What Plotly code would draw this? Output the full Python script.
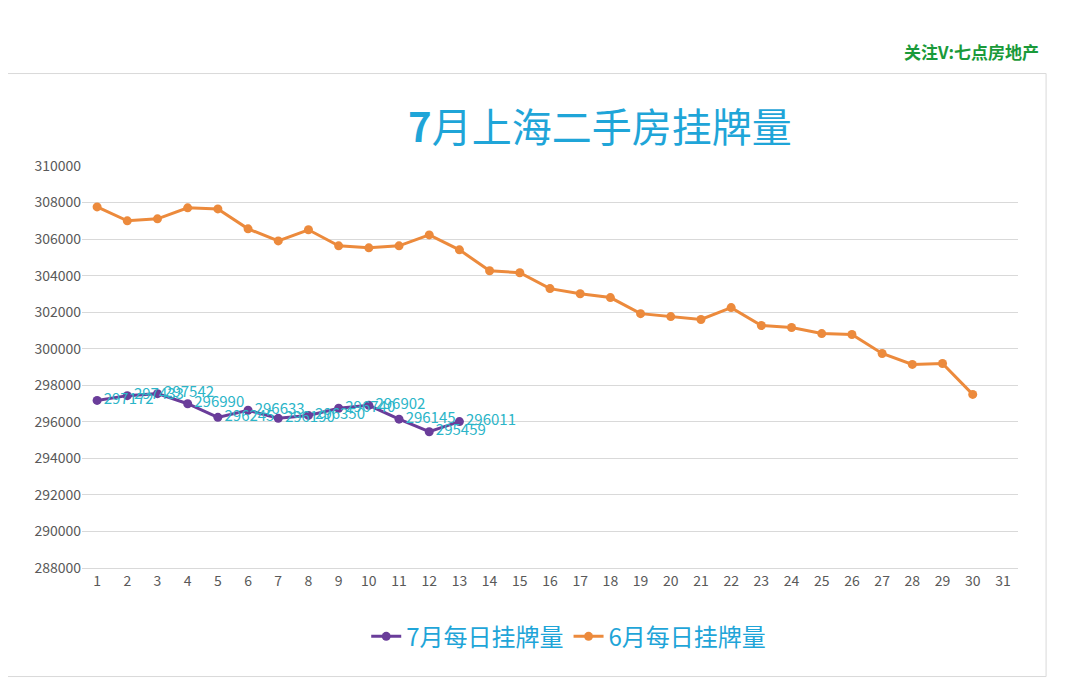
import plotly.graph_objects as go

days = list(range(1, 32))
july_days = list(range(1, 14))
july_vals = [297172, 297433, 297542, 296990, 296245, 296633, 296190, 296350, 296740, 296902, 296145, 295459, 296011]
june_days = list(range(1, 31))
june_vals = [307762, 307000, 307110, 307710, 307650, 306560, 305900, 306510, 305630, 305520,
             305630, 306230, 305410, 304270, 304160, 303290, 303010, 302800, 301920, 301760,
             301600, 302250, 301270, 301160, 300830, 300780, 299740, 299140, 299190, 297500]

fig = go.Figure()
fig.add_trace(go.Scatter(x=july_days, y=july_vals, name="7月每日挂牌量", mode="lines+markers+text",
                         text=[str(v) for v in july_vals], textposition="middle right",
                         textfont=dict(color="#2bb5c8", size=15),
                         line=dict(color="#6a3d9a", width=3), marker=dict(size=9, color="#6a3d9a")))
fig.add_trace(go.Scatter(x=june_days, y=june_vals, name="6月每日挂牌量", mode="lines+markers",
                         line=dict(color="#ec8a3c", width=3), marker=dict(size=9, color="#ec8a3c")))

fig.update_layout(
    width=1080, height=685, paper_bgcolor="white", plot_bgcolor="white",
    margin=dict(l=74, r=70, t=158, b=125),
    font=dict(family="Noto Sans CJK SC", color="#595959"),
    title=dict(text="<b>7</b>月上海二手房挂牌量", x=0.548, xanchor="center", y=0.845,
               font=dict(size=40, color="#1fa5d8")),
    showlegend=True,
    legend=dict(orientation="h", x=0.52, xanchor="center", y=-0.115, yanchor="top",
                font=dict(size=24, color="#1fa5d8")),
    shapes=[dict(type="rect", xref="paper", yref="paper", x0=-0.08, x1=1.03, y0=-0.27, y1=1.23,
                 line=dict(color="#d9d9d9", width=1))],
    annotations=[dict(text="<b>关注V:七点房地产</b>", xref="paper", yref="paper", x=1.025, y=1.32,
                      xanchor="right", showarrow=False, font=dict(size=17, color="#1a9a3a"))],
)
fig.update_xaxes(range=[0.5, 31.5], tickvals=days, showgrid=False, showline=True,
                 linecolor="#d9d9d9", tickfont=dict(size=14))
fig.update_yaxes(range=[288000, 310000], dtick=2000, tickformat="d", gridcolor="#d9d9d9",
                 zeroline=False, tickfont=dict(size=14))
fig.write_html("out.html")
